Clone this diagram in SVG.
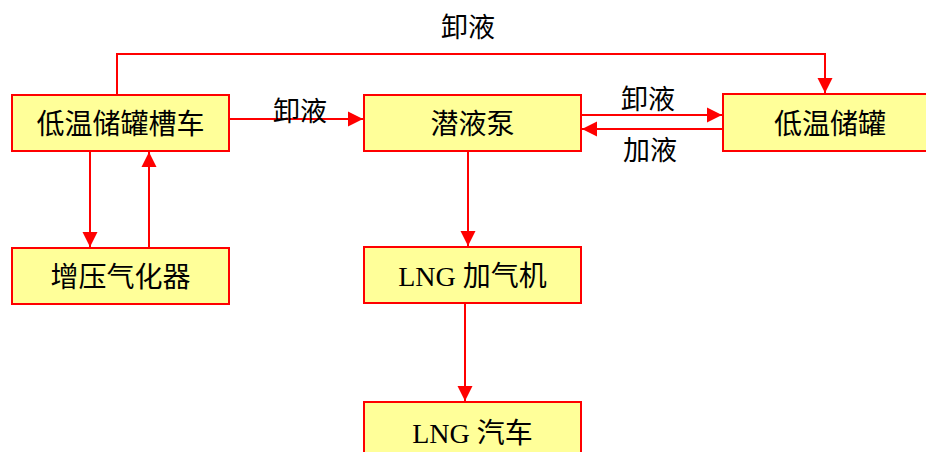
<svg xmlns="http://www.w3.org/2000/svg" width="926" height="452" viewBox="0 0 926 452">
<style>
.box{fill:#FFFF99;stroke:#FF0000;stroke-width:2}
.t{font-family:"Liberation Serif","Noto Sans CJK SC",serif;font-size:27px;fill:#000;text-anchor:middle;dominant-baseline:central}
.b{font-size:28px}
.c{fill:none;stroke:#FF0000;stroke-width:2}
</style>
<defs>
<marker id="ah" markerUnits="userSpaceOnUse" markerWidth="16" markerHeight="16" viewBox="0 0 16 16" refX="15" refY="8" orient="auto">
<path d="M0,0.5 L15,8 L0,15.5 Z" fill="#FF0000"/>
</marker>
</defs>
<rect width="926" height="452" fill="#fff"/>
<g id="connectors">
<polyline class="c" points="117,95 117,54 825,54 825,93" marker-end="url(#ah)"/>
<line class="c" x1="229" y1="119" x2="363" y2="119" marker-end="url(#ah)"/>
<line class="c" x1="581" y1="115" x2="722" y2="115" marker-end="url(#ah)"/>
<line class="c" x1="723" y1="129" x2="582" y2="129" marker-end="url(#ah)"/>
<line class="c" x1="90" y1="151" x2="90" y2="247" marker-end="url(#ah)"/>
<line class="c" x1="149" y1="248" x2="149" y2="152" marker-end="url(#ah)"/>
<line class="c" x1="468" y1="151" x2="468" y2="246" marker-end="url(#ah)"/>
<line class="c" x1="465" y1="303" x2="465" y2="401" marker-end="url(#ah)"/>
<text class="t" x="468" y="28">卸液</text>
<text class="t" x="300" y="112">卸液</text>
<text class="t" x="648" y="100">卸液</text>
<text class="t" x="650" y="151">加液</text>
</g>
<g id="tanker"><rect class="box" x="12" y="95" width="217" height="56"/><text class="t b" x="120.5" y="124">低温储罐槽车</text></g>
<g id="vaporizer"><rect class="box" x="12" y="248" width="217" height="56"/><text class="t b" x="120.5" y="277">增压气化器</text></g>
<g id="pump"><rect class="box" x="364" y="95" width="217" height="56"/><text class="t b" x="472.5" y="124">潜液泵</text></g>
<g id="tank"><rect class="box" x="723" y="94" width="210" height="57"/><text class="t b" x="830" y="124">低温储罐</text></g>
<g id="dispenser"><rect class="box" x="364" y="247" width="217" height="56"/><text class="t b" x="472.5" y="276">LNG 加气机</text></g>
<g id="vehicle"><rect class="box" x="364" y="402" width="217" height="60"/><text class="t b" x="472.5" y="433">LNG 汽车</text></g>
</svg>
